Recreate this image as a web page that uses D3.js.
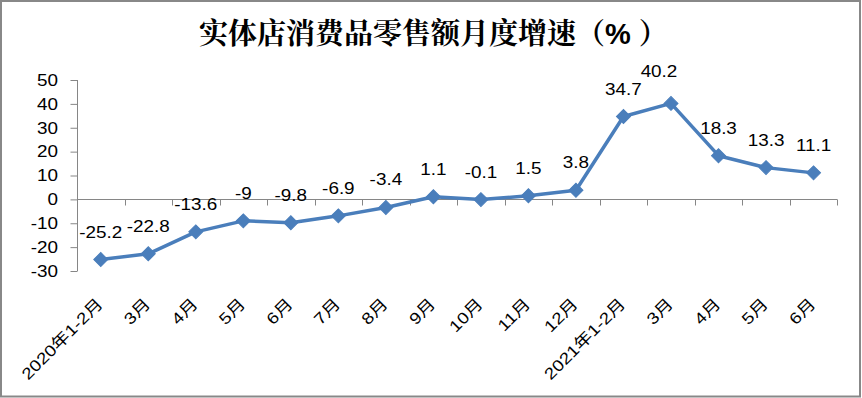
<!DOCTYPE html>
<html>
<head>
<meta charset="utf-8">
<script src="https://cdn.jsdelivr.net/npm/d3@7"></script>
<style>
html,body{margin:0;padding:0;background:#fff;}
svg{display:block;}
</style>
</head>
<body>
<svg id="chart" width="862" height="398"></svg>
<script>
const title = "实体店消费品零售额月度增速（%）";
const categories = ["2020年1-2月","3月","4月","5月","6月","7月","8月","9月","10月","11月","12月","2021年1-2月","3月","4月","5月","6月"];
const values = [-25.2,-22.8,-13.6,-9,-9.8,-6.9,-3.4,1.1,-0.1,1.5,3.8,34.7,40.2,18.3,13.3,11.1];
const yTicks = [-30,-20,-10,0,10,20,30,40,50];
// label nudges (dx, dy) for crowded data labels
const labelNudge = {12: [-12, -4]};

const W = 862, H = 398;
const svg = d3.select("#chart");
const sx = 1.18;
const numFont = "'Liberation Sans', Arial, 'Noto Sans CJK SC', sans-serif";

svg.append("rect").attr("x",0).attr("y",0).attr("width",W).attr("height",H).attr("fill","#fff");
svg.append("rect").attr("x",1).attr("y",1).attr("width",859).attr("height",395.5)
  .attr("fill","none").attr("stroke","#888").attr("stroke-width",2);

const x = d3.scaleBand().domain(d3.range(categories.length)).range([77, 837.3]).padding(0);
const y = d3.scaleLinear().domain([-30, 50]).range([271, 80]);

// title (the % sign set in a bold Latin face, as in the original)
const tParts = title.split("%");
const tt = svg.append("text").attr("x", 199).attr("y", 44)
  .attr("text-anchor","start")
  .attr("font-family","'Noto Serif CJK SC','Noto Sans CJK SC',serif")
  .attr("font-weight","bold")
  .attr("font-size",29).attr("fill","#000");
tt.append("tspan").text(tParts[0]);
tt.append("tspan").attr("font-family","'Liberation Sans',Arial,sans-serif").text("%");
tt.append("tspan").attr("dx",8).text(tParts[1]);

const axisColor = "#868686";
// y axis
const yAxis = d3.axisLeft(y).tickValues(yTicks).tickSize(7).tickFormat(d3.format("d"));
const gy = svg.append("g").attr("transform","translate(77,0)").call(yAxis);
gy.select(".domain").attr("stroke",axisColor).attr("d", `M0.5,${y(-30)}V${y(50)}`);
gy.selectAll(".tick line").attr("stroke",axisColor).attr("transform","translate(0.5,0)");
gy.selectAll(".tick text").remove();
yTicks.forEach(t => {
  svg.append("text")
    .attr("transform", `translate(58,${y(t)+5.8}) scale(${sx},1)`)
    .attr("text-anchor","end").attr("font-family",numFont).attr("font-size",16)
    .attr("fill","#000").text(t);
});

// x axis at zero
const y0 = Math.round(y(0)) + 0.5;
const bounds = d3.range(categories.length + 1).map(i => i < categories.length ? x(i) : x.range()[1]);
svg.append("line").attr("x1",77).attr("x2",x.range()[1]).attr("y1",y0).attr("y2",y0)
  .attr("stroke",axisColor).attr("stroke-width",1);
svg.selectAll(".xtick").data(bounds.slice(1)).enter().append("line")
  .attr("x1",d=>Math.round(d)+0.5).attr("x2",d=>Math.round(d)+0.5)
  .attr("y1",y0).attr("y2",y0+6).attr("stroke",axisColor);

// x labels
svg.selectAll(".xlab").data(categories).enter().append("text")
  .attr("transform",(d,i)=>`translate(${x(i)+x.bandwidth()/2+3},305) rotate(-45) scale(${sx},1)`)
  .attr("text-anchor","end").attr("font-family",numFont).attr("font-size",16)
  .attr("fill","#000").text(d=>d);

// line
const cx = i => x(i) + x.bandwidth()/2;
const line = d3.line().x((d,i)=>cx(i)).y(d=>y(d));
svg.append("path").datum(values).attr("d",line)
  .attr("fill","none").attr("stroke","#4A7EBB").attr("stroke-width",3.5)
  .attr("stroke-linejoin","round");

const sym = d3.symbol().type(d3.symbolSquare).size(98);
svg.selectAll(".mk").data(values).enter().append("path")
  .attr("d", sym)
  .attr("transform",(d,i)=>`translate(${cx(i)},${y(d)}) rotate(45)`)
  .attr("fill","#4A7EBB").attr("stroke","#4A7EBB").attr("stroke-width",1);

// data labels
svg.selectAll(".dl").data(values).enter().append("text")
  .attr("transform",(d,i)=>{
    const n = labelNudge[i] || [0,0];
    return `translate(${cx(i)+n[0]},${y(d)-22+n[1]}) scale(${sx},1)`;
  })
  .attr("text-anchor","middle").attr("font-family",numFont).attr("font-size",16)
  .attr("fill","#000").text(d=>d);
</script>
</body>
</html>
